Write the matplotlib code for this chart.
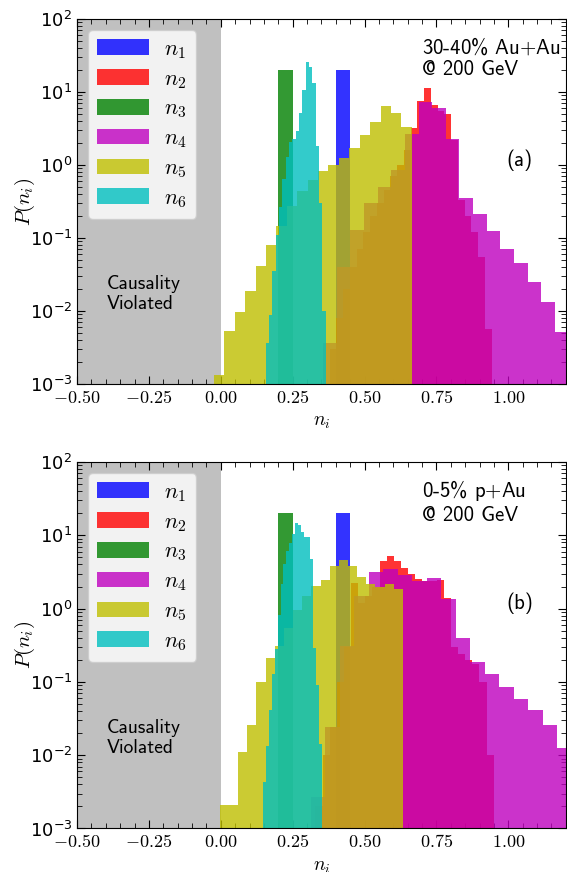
import numpy as np
import matplotlib
matplotlib.use("Agg")
import matplotlib.pyplot as plt
from matplotlib.ticker import MultipleLocator, FormatStrFormatter, LogLocator, NullFormatter

plt.rcParams['mathtext.fontset'] = 'cm'

labels = ['$n_1$', '$n_2$', '$n_3$', '$n_4$', '$n_5$', '$n_6$']
colors = ['b', 'r', 'g', 'm', 'y', 'c']

# ---- (a) 30-40% Au+Au @ 200 GeV ----
a_n1_edges = [0.40, 0.45]
a_n1 = [20.0]
a_n2_edges = np.linspace(0.355, 0.942, 26)
a_n2 = [0.001, 0.003, 0.008, 0.02, 0.04, 0.07, 0.12, 0.2, 0.3, 0.45, 0.7, 1.0, 1.6,
        3.2, 7.55, 11.4, 6.6, 5.5, 5.0, 2.2, 0.33, 0.2, 0.12, 0.055, 0.0056]
a_n3_edges = [0.20, 0.25]
a_n3 = [20.0]
a_n4_edges = np.linspace(0.355, 1.21, 19)
a_n4 = [0.0037, 0.04, 0.13, 0.3, 0.5, 0.85, 2.67, 7.3, 6.0, 2.28, 0.355, 0.21,
        0.123, 0.0714, 0.045, 0.025, 0.0134, 0.0052]
a_n5_edges = np.linspace(-0.024, 0.664, 20)
a_n5 = [0.00132, 0.0054, 0.0097, 0.019, 0.042, 0.081, 0.147, 0.277, 0.44, 0.63,
        0.83, 1.0, 1.26, 1.72, 2.59, 3.86, 6.45, 5.1, 3.33]
a_n6_edges = np.linspace(0.156, 0.364, 19)
a_n6 = [0.0037, 0.0089, 0.035, 0.11, 0.27, 0.65, 1.29, 2.08, 2.3, 2.9, 5.2, 10.7,
        25.9, 21.9, 13.3, 1.8, 0.30, 0.010]

# ---- (b) 0-5% p+Au @ 200 GeV ----
b_n1_edges = [0.40, 0.45]
b_n1 = [20.0]
b_n2_edges = np.linspace(0.304, 0.949, 27)
b_n2 = [0.001, 0.002, 0.01, 0.024, 0.1, 0.3, 2.24, 1.2, 1.48, 2.0, 4.47, 5.2, 4.47,
        3.58, 2.95, 2.5, 2.4, 2.4, 2.45, 1.4, 0.30, 0.24, 0.2, 0.175, 0.1, 0.01]
b_n3_edges = [0.20, 0.25]
b_n3 = [20.0]
b_n4_edges = np.linspace(0.312, 1.221, 19)
b_n4 = [0.0027, 0.024, 0.31, 1.48, 3.16, 3.47, 2.89, 2.4, 2.63, 1.35, 0.40, 0.186,
        0.13, 0.085, 0.058, 0.042, 0.026, 0.0126]
b_n5_edges = np.linspace(-0.0035, 0.633, 21)
b_n5 = [0.0021, 0.0021, 0.011, 0.026, 0.099, 0.21, 0.31, 0.55, 0.95, 1.5, 2.04,
        2.45, 3.8, 4.6, 3.8, 2.7, 2.17, 1.97, 2.17, 1.85]
b_n6_edges = np.linspace(0.146, 0.351, 21)
b_n6 = [0.0043, 0.0134, 0.042, 0.129, 0.28, 0.82, 2.17, 4.1, 6.1, 7.85, 10.4, 14.7,
        13.8, 11.1, 9.5, 9.5, 4.75, 0.29, 0.091, 0.014]

panel_a = [(a_n1_edges, a_n1), (a_n2_edges, a_n2), (a_n3_edges, a_n3),
           (a_n4_edges, a_n4), (a_n5_edges, a_n5), (a_n6_edges, a_n6)]
panel_b = [(b_n1_edges, b_n1), (b_n2_edges, b_n2), (b_n3_edges, b_n3),
           (b_n4_edges, b_n4), (b_n5_edges, b_n5), (b_n6_edges, b_n6)]


def draw_panel(ax, hists, system, tag):
    ax.set_yscale('log')
    ax.axvspan(-0.5, 0.0, color='silver', zorder=0, lw=0)
    for (edges, h), c, lab in zip(hists, colors, labels):
        edges = np.asarray(edges)
        ax.bar(edges[:-1], h, width=np.diff(edges), align='edge', color=c,
               alpha=0.8, linewidth=0, label=lab, zorder=2)
    ax.set_xlim(-0.5, 1.2)
    ax.set_ylim(1e-3, 1e2)
    ax.xaxis.set_major_locator(MultipleLocator(0.25))
    ax.xaxis.set_minor_locator(MultipleLocator(0.05))
    ax.xaxis.set_major_formatter(FormatStrFormatter('$%.2f$'))
    ax.yaxis.set_major_locator(LogLocator(base=10, numticks=10))
    ax.yaxis.set_minor_locator(LogLocator(base=10, subs=np.arange(2, 10), numticks=10))
    ax.yaxis.set_minor_formatter(NullFormatter())
    ax.tick_params(which='both', direction='in', top=True, right=True, labelsize=13)
    ax.tick_params(which='major', length=5.5)
    ax.tick_params(which='minor', length=3.5)
    ax.set_xlabel('$n_i$', fontsize=14)
    ax.set_ylabel('$P(n_i)$', fontsize=15, labelpad=-5)
    ax.legend(loc='upper left', fontsize=16, handlelength=2.35, labelspacing=0.36,
              borderaxespad=0.5, handletextpad=0.68)
    ax.text(0.061, 0.300, 'Causality\nViolated', transform=ax.transAxes,
            ha='left', va='top', fontsize=14, family='cmss10', linespacing=1.2)
    ax.text(0.705, 0.955, system + '\n@ 200 GeV', transform=ax.transAxes,
            ha='left', va='top', fontsize=15, family='cmss10', linespacing=1.2)
    ax.text(0.906, 0.614, tag, transform=ax.transAxes, ha='center', va='center',
            fontsize=15, family='cmss10')


fig = plt.figure(figsize=(5.67, 8.72), dpi=100)
ax1 = fig.add_axes([0.136, 0.5596, 0.862, 0.4186])
ax2 = fig.add_axes([0.136, 0.0499, 0.862, 0.4203])
draw_panel(ax1, panel_a, '30-40% Au$+$Au', '(a)')
draw_panel(ax2, panel_b, '0-5% p$+$Au', '(b)')

fig.savefig('out.png', dpi=100)
